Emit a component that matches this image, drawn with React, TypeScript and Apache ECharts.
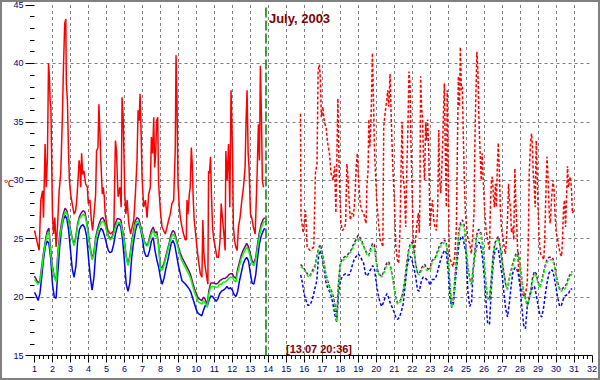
import React, { useEffect, useRef } from "react";
import * as echarts from "echarts";

// ---- texts ----
const titleText = "July, 2003";
const markerText = "[13.07 20:36]";
const unitText = "℃";
const markerDay = 13.858; // 13.07 20:36

// ---- axis ----
const xMin = 1;
const xMax = 32;
const yMin = 15;
const yMax = 45;

// ---- sampling grid (0.1 day) for the smooth series ----
const leftStart = 1.0;
const rightStart = 15.8;

// measured (solid) part, days 1.0 .. 13.8
const greenLeft = [
  21.5, 21.3, 21.1, 21.3, 22.4, 23.6, 24.6, 25.3, 25.6, 23.7,
  22.4, 21.7, 21.3, 23.6, 25.1, 26.0, 26.8, 27.3, 27.2, 26.5,
  25.6, 24.9, 24.4, 25.0, 26.1, 26.7, 26.9, 27.1, 27.0, 26.3,
  25.2, 24.0, 23.2, 23.6, 24.9, 25.5, 26.0, 26.4, 26.5, 26.3,
  25.7, 25.2, 24.9, 25.0, 25.4, 26.0, 26.4, 26.4, 26.3, 25.5,
  24.6, 23.4, 22.7, 23.3, 24.5, 25.3, 26.2, 26.5, 26.4, 25.9,
  25.3, 24.7, 24.4, 24.4, 24.9, 25.4, 25.7, 25.2, 25.3, 24.3,
  22.4, 22.3, 22.7, 23.3, 23.9, 24.5, 25.1, 25.4, 25.2, 24.7,
  24.1, 23.5, 23.1, 22.8, 22.5, 22.2, 21.9, 21.5, 20.9, 20.4,
  20.0, 19.6, 19.5, 19.4, 19.7, 19.5, 19.1, 20.3, 20.9, 20.9,
  20.9, 20.8, 20.9, 21.1, 21.1, 21.3, 21.3, 21.4, 21.6, 21.7,
  21.7, 21.4, 21.3, 22.1, 22.7, 23.3, 23.7, 24.0, 24.3, 24.0,
  23.4, 22.8, 22.7, 23.2, 24.2, 25.2, 25.9, 26.3, 26.5,
];

const purpleLeft = [
  21.8, 21.5, 21.2, 21.4, 22.6, 23.8, 24.8, 25.6, 25.9, 24.0,
  22.6, 21.8, 21.4, 23.8, 25.3, 26.3, 27.1, 27.6, 27.4, 26.7,
  25.8, 25.0, 24.5, 25.2, 26.3, 26.9, 27.2, 27.4, 27.3, 26.5,
  25.4, 24.2, 23.3, 23.8, 25.1, 25.8, 26.3, 26.7, 26.8, 26.5,
  25.9, 25.3, 25.0, 25.1, 25.6, 26.3, 26.7, 26.7, 26.6, 25.7,
  24.8, 23.5, 22.8, 23.5, 24.7, 25.6, 26.5, 26.8, 26.7, 26.1,
  25.5, 24.8, 24.5, 24.5, 25.1, 25.7, 26.0, 25.5, 25.6, 24.5,
  22.6, 22.5, 22.9, 23.5, 24.1, 24.7, 25.4, 25.7, 25.5, 24.9,
  24.3, 23.8, 23.4, 23.1, 22.8, 22.5, 22.2, 21.8, 21.2, 20.7,
  20.3, 19.9, 19.8, 19.7, 20.0, 19.8, 19.3, 20.6, 21.2, 21.2,
  21.2, 21.1, 21.2, 21.4, 21.5, 21.6, 21.6, 21.7, 21.9, 22.0,
  22.0, 21.7, 21.6, 22.4, 23.0, 23.6, 24.0, 24.3, 24.6, 24.3,
  23.7, 23.1, 22.9, 23.4, 24.5, 25.5, 26.2, 26.6, 26.8,
];

const blueLeft = [
  20.4, 20.1, 19.7, 20.3, 21.7, 23.2, 24.3, 24.8, 24.6, 23.3,
  21.1, 20.0, 19.9, 22.2, 24.3, 25.8, 26.6, 27.0, 26.7, 25.7,
  24.0, 22.4, 21.7, 22.6, 24.8, 25.8, 26.1, 26.2, 25.9, 25.2,
  23.4, 21.8, 20.6, 21.6, 23.7, 24.9, 25.5, 25.9, 25.7, 25.2,
  24.6, 24.0, 23.8, 23.9, 24.5, 25.4, 26.0, 26.3, 26.0, 24.9,
  23.1, 21.1, 20.5, 21.2, 23.3, 24.6, 25.6, 26.2, 26.3, 25.8,
  25.0, 23.9, 23.5, 23.5, 24.0, 24.8, 25.1, 24.0, 23.2, 22.6,
  21.7, 21.1, 21.6, 22.4, 23.05, 23.8, 24.6, 24.85, 24.45, 23.6,
  22.7, 22.05, 21.4, 21.25, 21.1, 20.9, 20.7, 20.4, 19.9, 19.4,
  18.9, 18.6, 18.5, 18.4, 18.9, 19.3, 19.2, 19.7, 20.1, 20.05,
  19.85, 19.65, 19.85, 20.3, 20.5, 20.6, 20.7, 20.9, 20.7, 20.8,
  20.6, 20.2, 20.05, 20.5, 21.4, 22.1, 22.8, 23.2, 23.4, 23.1,
  22.05, 21.2, 21.1, 21.9, 23.3, 24.5, 25.2, 25.6, 25.9,
];

// dashed part, days 15.8 .. 30.9
const greenRight = [
  22.6, 22.5,
  22.3, 22.1, 21.8, 21.7, 22.0, 22.2, 22.5, 23.3, 24.0, 24.3,
  23.6, 22.7, 21.9, 21.3, 20.7, 20.5, 20.0, 19.3, 17.9, 21.0,
  22.8, 23.0, 23.2, 23.3, 23.5, 23.7, 23.9, 24.2, 24.5, 24.8,
  25.1, 24.9, 24.6, 24.3, 23.9, 23.6, 23.5, 24.0, 24.4, 24.3,
  23.0, 22.1, 21.8, 21.7, 22.0, 22.3, 22.8, 22.8, 22.4, 21.7,
  20.8, 19.7, 19.4, 19.5, 19.8, 20.3, 21.4, 22.7, 23.8, 24.4,
  24.5, 23.9, 22.7, 22.0, 21.9, 22.2, 22.5, 22.6, 22.3, 22.3,
  22.3, 22.9, 23.2, 23.3, 23.7, 24.1, 24.4, 24.5, 24.7, 24.4,
  23.2, 20.9, 19.1, 19.9, 21.9, 23.6, 25.5, 26.1, 26.3, 25.9,
  24.0, 22.4, 21.5, 21.0, 22.4, 24.0, 25.2, 25.5, 25.4, 24.6,
  23.0, 21.1, 19.8, 19.7, 21.3, 23.4, 24.4, 24.8, 25.0, 24.2,
  23.0, 22.0, 21.0, 20.6, 21.5, 22.1, 22.7, 23.2, 23.6, 23.6,
  22.6, 21.4, 20.3, 19.8, 19.2, 19.8, 20.5, 21.5, 22.0, 21.8,
  21.2, 20.8, 21.3, 21.9, 22.5, 23.0, 23.2, 23.2, 23.2, 22.7,
  21.8, 21.1, 20.6, 20.5, 20.7, 20.7, 21.0, 21.5, 21.8, 22.0,
];

const purpleRight = [
  22.8, 22.6,
  22.4, 22.2, 21.9, 21.8, 22.1, 22.4, 22.7, 23.5, 24.2, 24.5,
  23.8, 22.9, 22.0, 21.4, 20.9, 20.6, 20.1, 19.4, 18.0, 21.1,
  22.9, 23.2, 23.4, 23.5, 23.6, 23.8, 24.0, 24.4, 24.7, 25.0,
  25.3, 25.1, 24.8, 24.4, 24.0, 23.7, 23.6, 24.2, 24.6, 24.5,
  23.1, 22.2, 21.9, 21.8, 22.1, 22.5, 23.0, 23.0, 22.6, 21.8,
  20.9, 19.8, 19.5, 19.6, 19.9, 20.5, 21.6, 22.9, 24.0, 24.6,
  24.7, 24.1, 22.8, 22.1, 22.0, 22.4, 22.7, 22.8, 22.5, 22.4,
  22.5, 23.1, 23.3, 23.4, 23.9, 24.3, 24.6, 24.7, 24.9, 24.6,
  23.3, 21.0, 19.2, 20.0, 22.1, 23.8, 25.7, 26.4, 26.6, 26.1,
  24.1, 22.5, 21.6, 21.1, 22.6, 24.2, 25.4, 25.8, 25.6, 24.8,
  23.1, 21.2, 19.9, 19.8, 21.5, 23.6, 24.6, 25.0, 25.2, 24.3,
  23.1, 22.1, 21.1, 20.7, 21.6, 22.3, 22.9, 23.4, 23.8, 23.8,
  22.7, 21.5, 20.4, 19.9, 19.3, 19.9, 20.6, 21.7, 22.2, 22.0,
  21.3, 20.9, 21.4, 22.1, 22.7, 23.2, 23.4, 23.4, 23.4, 22.9,
  21.9, 21.2, 20.7, 20.6, 20.8, 20.9, 21.2, 21.7, 22.0, 22.2,
];

const blueRight = [
  21.9, 21.2,
  20.2, 19.7, 19.3, 19.3, 19.6, 20.1, 20.8, 21.4, 23.6, 24.0,
  23.3, 22.4, 21.3, 20.8, 20.5, 20.1, 19.4, 18.5, 17.9, 20.1,
  21.4, 21.7, 21.9, 22.0, 21.9, 21.9, 22.3, 22.9, 23.3, 23.5,
  23.7, 23.5, 23.2, 22.9, 22.0, 21.8, 22.1, 22.4, 22.7, 22.4,
  21.3, 20.3, 19.6, 19.2, 19.5, 20.0, 20.3, 19.9, 19.4, 19.1,
  18.7, 18.2, 18.1, 18.3, 18.8, 19.4, 20.8, 22.4, 23.2, 23.5,
  23.1, 22.5, 21.7, 20.6, 20.5, 21.3, 21.7, 21.7, 21.5, 21.4,
  21.0, 21.5, 21.5, 21.6, 22.1, 22.7, 23.3, 23.7, 24.0, 23.8,
  22.3, 20.0, 19.1, 19.5, 21.3, 23.0, 24.5, 25.1, 25.2, 24.5,
  23.7, 20.4, 19.2, 19.5, 22.3, 23.7, 24.4, 24.7, 24.5, 23.5,
  21.9, 19.7, 17.7, 17.7, 20.6, 22.8, 23.9, 24.2, 24.0, 22.9,
  21.9, 20.4, 19.0, 18.3, 19.4, 20.9, 22.1, 22.5, 22.5, 22.0,
  20.9, 19.1, 17.6, 17.3, 19.2, 19.8, 20.4, 20.9, 20.9, 20.2,
  19.3, 18.5, 18.3, 19.0, 20.2, 21.2, 22.0, 22.3, 22.3, 21.7,
  20.8, 19.9, 19.2, 19.3, 19.8, 20.1, 20.2, 20.3, 20.7, 20.7,
];

// red series: [day, °C]
const redLeft = [
  [1.0, 25.7], [1.21, 24.3], [1.26, 24.0], [1.35, 28.3], [1.45, 29.1], [1.5, 26.8], [1.59, 33.1], [1.65, 29.4],
  [1.72, 32.0], [1.78, 40.0], [1.83, 38.8], [1.87, 36.8], [1.91, 36.3], [2.0, 27.1], [2.06, 25.4], [2.13, 26.8],
  [2.2, 24.3], [2.28, 26.0], [2.37, 29.1], [2.46, 30.6], [2.55, 35.4], [2.61, 39.7], [2.68, 43.4], [2.74, 43.8],
  [2.77, 38.3], [2.83, 36.8], [2.89, 32.5], [2.94, 30.0], [3.01, 28.8], [3.13, 27.7], [3.2, 27.1], [3.29, 27.4],
  [3.35, 28.3], [3.42, 30.0], [3.48, 31.7], [3.53, 31.1], [3.57, 29.4], [3.62, 32.3], [3.68, 30.5], [3.75, 30.8],
  [3.84, 29.7], [3.94, 29.4], [3.99, 28.0], [4.08, 28.3], [4.16, 26.6], [4.23, 25.7], [4.31, 27.1], [4.4, 28.8],
  [4.45, 32.5], [4.53, 32.8], [4.58, 36.5], [4.64, 34.0], [4.68, 32.0], [4.77, 28.8], [4.82, 29.4], [4.88, 28.6],
  [4.93, 27.1], [5.01, 26.3], [5.08, 25.7], [5.23, 25.4], [5.41, 25.7], [5.5, 33.4], [5.56, 32.5], [5.6, 30.5],
  [5.65, 28.6], [5.75, 29.4], [5.82, 27.7], [5.87, 37.1], [5.93, 35.4], [5.97, 32.5], [6.02, 28.8], [6.08, 27.1],
  [6.15, 28.3], [6.24, 26.3], [6.34, 25.4], [6.43, 26.0], [6.52, 26.6], [6.61, 28.8], [6.7, 31.7], [6.76, 36.0],
  [6.82, 35.1], [6.87, 37.4], [6.93, 34.0], [6.98, 30.3], [7.07, 27.7], [7.17, 28.3], [7.26, 26.8], [7.35, 28.8],
  [7.44, 29.4], [7.5, 33.7], [7.57, 32.3], [7.63, 35.4], [7.68, 31.1], [7.74, 32.3], [7.79, 35.1], [7.85, 35.4],
  [7.9, 29.7], [7.96, 28.3], [8.0, 27.4], [8.09, 26.0], [8.18, 25.7], [8.27, 25.4], [8.37, 26.0], [8.46, 26.6],
  [8.55, 27.1], [8.64, 28.0], [8.74, 28.3], [8.83, 32.8], [8.87, 40.7], [8.92, 37.1], [8.98, 29.7], [9.05, 27.7],
  [9.11, 26.8], [9.2, 26.0], [9.29, 25.4], [9.38, 24.9], [9.44, 24.9], [9.48, 28.3], [9.53, 27.1], [9.61, 28.8],
  [9.66, 29.4], [9.72, 32.8], [9.77, 31.4], [9.83, 28.3], [9.88, 26.6], [9.94, 25.7], [10.03, 24.3], [10.12, 23.1],
  [10.22, 22.0], [10.31, 21.7], [10.36, 26.6], [10.42, 23.7], [10.49, 22.6], [10.58, 21.7], [10.64, 21.1], [10.68, 30.8],
  [10.73, 30.6], [10.79, 32.0], [10.84, 28.8], [10.9, 26.0], [10.97, 24.9], [11.05, 24.3], [11.14, 23.4], [11.23, 23.4],
  [11.32, 24.9], [11.38, 28.0], [11.45, 26.8], [11.53, 25.4], [11.6, 24.0], [11.64, 32.5], [11.71, 30.0], [11.79, 33.1],
  [11.86, 27.7], [11.93, 37.7], [12.01, 32.5], [12.06, 26.0], [12.12, 24.9], [12.19, 24.3], [12.27, 24.0], [12.34, 26.0],
  [12.43, 26.8], [12.53, 28.3], [12.62, 29.4], [12.71, 31.1], [12.77, 35.4], [12.82, 37.7], [12.88, 32.3], [12.93, 31.1],
  [13.01, 27.1], [13.08, 26.8], [13.17, 26.0], [13.27, 25.4], [13.32, 27.7], [13.38, 30.6], [13.45, 34.8], [13.51, 31.7],
  [13.56, 39.8], [13.62, 35.4], [13.67, 30.0], [13.73, 29.4],
];

const redRight = [
  [15.79, 35.7], [15.82, 26.9], [15.94, 25.5], [16.07, 27.4], [16.16, 24.3], [16.31, 24.0], [16.53, 24.3], [16.62, 30.6],
  [16.71, 31.4], [16.77, 39.4], [16.84, 39.9], [16.9, 38.6], [16.95, 35.4], [17.03, 36.3], [17.12, 34.9], [17.21, 34.6],
  [17.3, 33.2], [17.4, 32.3], [17.49, 30.6], [17.6, 30.0], [17.69, 31.2], [17.76, 27.2], [17.82, 32.6], [17.87, 37.0],
  [17.93, 31.7], [17.99, 28.3], [18.04, 26.3], [18.12, 25.7], [18.23, 25.9], [18.3, 26.3], [18.37, 31.4], [18.43, 30.3],
  [18.48, 28.6], [18.56, 26.6], [18.65, 27.2], [18.74, 26.9], [18.83, 28.9], [18.89, 31.2], [18.95, 32.3], [19.02, 30.0],
  [19.11, 28.0], [19.2, 27.4], [19.3, 27.2], [19.39, 26.6], [19.44, 26.3], [19.48, 29.4], [19.55, 30.9], [19.59, 35.2],
  [19.65, 32.9], [19.72, 35.7], [19.79, 40.9], [19.85, 36.9], [19.9, 32.9], [19.96, 30.6], [20.03, 28.3], [20.13, 26.3],
  [20.22, 24.9], [20.31, 24.6], [20.37, 24.3], [20.42, 34.6], [20.49, 35.7], [20.59, 36.9], [20.64, 37.7], [20.7, 36.3],
  [20.77, 39.1], [20.85, 34.6], [20.92, 31.2], [21.01, 28.3], [21.09, 24.3], [21.18, 23.2], [21.25, 22.9], [21.33, 26.0],
  [21.38, 30.9], [21.44, 35.0], [21.49, 30.6], [21.57, 29.2], [21.64, 26.0], [21.69, 30.0], [21.77, 34.9], [21.82, 39.3],
  [21.88, 38.3], [21.93, 33.4], [22.01, 28.3], [22.06, 24.9], [22.12, 23.7], [22.19, 24.9], [22.25, 26.0], [22.34, 27.2],
  [22.4, 25.5], [22.43, 28.3], [22.47, 38.9], [22.52, 36.3], [22.58, 35.2], [22.63, 32.0], [22.69, 30.0], [22.75, 34.9],
  [22.8, 33.4], [22.86, 35.2], [22.93, 32.0], [22.99, 26.0], [23.05, 27.2], [23.13, 28.3], [23.2, 26.6], [23.27, 26.0],
  [23.35, 25.7], [23.42, 27.7], [23.48, 34.3], [23.53, 30.0], [23.59, 28.9], [23.64, 30.6], [23.7, 33.4], [23.75, 36.3],
  [23.79, 38.3], [23.84, 32.9], [23.9, 27.7], [23.95, 37.7], [24.01, 30.0], [24.06, 23.7], [24.12, 23.2], [24.19, 22.9],
  [24.28, 22.6], [24.37, 23.5], [24.46, 26.0], [24.52, 33.4], [24.57, 38.9], [24.63, 36.3], [24.68, 41.4], [24.74, 37.7],
  [24.79, 38.0], [24.85, 33.4], [24.9, 30.0], [24.96, 27.2], [25.03, 26.0], [25.11, 24.9], [25.2, 24.6], [25.29, 23.7],
  [25.38, 25.5], [25.44, 27.2], [25.49, 33.4], [25.55, 37.7], [25.6, 41.0], [25.66, 39.1], [25.71, 35.4], [25.78, 32.3],
  [25.84, 30.0], [25.89, 32.3], [25.95, 30.0], [26.02, 27.7], [26.11, 25.7], [26.2, 24.9], [26.3, 24.0], [26.35, 27.7],
  [26.41, 30.0], [26.46, 30.3], [26.52, 28.6], [26.57, 27.7], [26.63, 29.7], [26.68, 27.7], [26.74, 31.4], [26.79, 33.2],
  [26.85, 30.6], [26.9, 27.7], [26.96, 26.0], [27.03, 25.2], [27.12, 24.3], [27.18, 23.7], [27.23, 24.6], [27.3, 26.6],
  [27.36, 29.7], [27.41, 28.3], [27.47, 27.7], [27.52, 25.5], [27.6, 26.0], [27.65, 24.9], [27.71, 31.0], [27.76, 28.3],
  [27.82, 26.0], [27.87, 23.7], [27.94, 22.0], [28.04, 20.9], [28.13, 20.3], [28.22, 20.0], [28.31, 20.3], [28.4, 21.2],
  [28.46, 24.9], [28.51, 30.6], [28.59, 33.4], [28.64, 34.0], [28.69, 32.9], [28.73, 30.6], [28.79, 29.4], [28.84, 27.7],
  [28.9, 33.4], [28.95, 30.6], [29.01, 27.2], [29.06, 24.9], [29.14, 23.7], [29.23, 23.5], [29.32, 23.2], [29.37, 24.9],
  [29.45, 29.7], [29.5, 32.0], [29.56, 30.0], [29.63, 26.9], [29.68, 26.3], [29.76, 28.6], [29.83, 30.0], [29.89, 29.2],
  [29.94, 27.2], [30.01, 25.5], [30.09, 24.9], [30.16, 24.3], [30.23, 23.7], [30.31, 23.5], [30.36, 24.9], [30.42, 27.7],
  [30.47, 28.3], [30.53, 26.0], [30.58, 28.3], [30.64, 31.2], [30.69, 29.4], [30.75, 30.0], [30.8, 30.3], [30.86, 29.2],
  [30.91, 27.2], [30.97, 27.4],
];

const onGrid = (start: number, vals: number[]) =>
  vals.map((v, i) => [Math.round(start * 10 + i) / 10, v]);

const FONT = "'Liberation Sans', Arial, sans-serif";
const DASH = [3, 2];

function line(name: string, data: any[], color: string, dashed: boolean, extra: any = {}) {
  return {
    name,
    type: "line",
    data,
    symbol: "none",
    silent: true,
    lineStyle: { color, width: 1.5, type: dashed ? DASH : "solid" },
    ...extra,
  };
}

export default function App() {
  const ref = useRef<HTMLDivElement>(null);
  useEffect(() => {
    if (!ref.current) return;
    const chart = echarts.init(ref.current, null, { renderer: "svg" });
    chart.setOption({
      animation: false,
      backgroundColor: "#ffffff",
      grid: { left: 34.5, right: 6, top: 5, bottom: 24.5 },
      xAxis: {
        type: "value",
        min: xMin,
        max: xMax,
        interval: 1,
        axisLine: { show: true, lineStyle: { color: "#000000", width: 1 } },
        axisTick: { show: true, length: 7, lineStyle: { color: "#000000" } },
        minorTick: { show: true, splitNumber: 4, length: 3.5, lineStyle: { color: "#000000" } },
        axisLabel: { color: "#000080", fontSize: 9, fontFamily: FONT, margin: 9 },
        splitLine: {
          show: true,
          showMinLine: false,
          showMaxLine: false,
          lineStyle: { color: "#808080", type: [3, 3], width: 1 },
        },
      },
      yAxis: {
        type: "value",
        min: yMin,
        max: yMax,
        interval: 5,
        axisLine: { show: false },
        axisTick: { show: true, length: 9, lineStyle: { color: "#000000" } },
        minorTick: { show: true, splitNumber: 5, length: 4.5, lineStyle: { color: "#000000" } },
        axisLabel: { color: "#000080", fontSize: 9, fontFamily: FONT, margin: 11 },
        splitLine: {
          show: true,
          showMinLine: false,
          showMaxLine: false,
          lineStyle: { color: "#808080", type: [3, 3], width: 1 },
        },
      },
      series: [
        line("max", redLeft, "#ff0000", false),
        line("maxF", redRight, "#ff0000", true),
        line("min", onGrid(leftStart, blueLeft), "#0000ff", false),
        line("minF", onGrid(rightStart, blueRight), "#0000ff", true),
        line("avg2", onGrid(leftStart, purpleLeft), "#800080", false),
        line("avg2F", onGrid(rightStart, purpleRight), "#800080", true),
        line("avg", onGrid(leftStart, greenLeft), "#00ff00", false, {
          markLine: {
            silent: true,
            symbol: ["none", "none"],
            label: { show: false },
            lineStyle: { color: "#008000", type: [10, 3], width: 1.5 },
            data: [{ xAxis: markerDay }],
          },
        }),
        line("avgF", onGrid(rightStart, greenRight), "#00ff00", true),
      ],
      graphic: [
        {
          type: "rect",
          z: 100,
          shape: { x: 1, y: 1, width: 598, height: 378 },
          style: { fill: "none", stroke: "#808080", lineWidth: 2 },
        },
        {
          type: "text",
          z: 100,
          x: 299.5,
          y: 18,
          style: {
            text: titleText,
            fill: "#800000",
            font: `bold 13px ${FONT}`,
            textAlign: "center",
            textVerticalAlign: "middle",
          },
        },
        {
          type: "text",
          z: 100,
          x: 9,
          y: 183,
          style: {
            text: unitText,
            fill: "#800000",
            font: `10px ${FONT}`,
            textAlign: "center",
            textVerticalAlign: "middle",
          },
        },
        {
          type: "text",
          z: 100,
          x: 319,
          y: 349,
          style: {
            text: markerText,
            fill: "#800000",
            font: `bold 11px ${FONT}`,
            textAlign: "center",
            textVerticalAlign: "middle",
          },
        },
      ],
    });
    return () => chart.dispose();
  }, []);
  return (
    <div
      ref={ref}
      style={{ position: "fixed", left: 0, top: 0, width: 600, height: 380, background: "#fff" }}
    />
  );
}
